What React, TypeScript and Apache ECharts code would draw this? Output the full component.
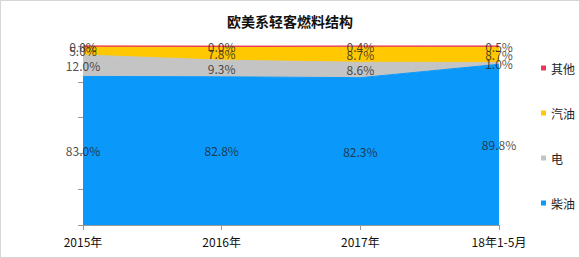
import React, { useEffect, useRef } from "react";
import * as echarts from "echarts";

const categories = ["2015年", "2016年", "2017年", "18年1-5月"];
const diesel = [83.0, 82.8, 82.3, 89.8];
const electric = [12.0, 9.3, 8.6, 1.0];
const gasoline = [5.0, 7.8, 8.7, 8.7];
const other = [0.0, 0.0, 0.4, 0.5];
const seriesNames = ["柴油", "电", "汽油", "其他"];
const seriesValues = [diesel, electric, gasoline, other];
const colors = ["#0a98fa", "#c4c4c4", "#ffc800", "#e8395c"];
const yTicks = { min: 0, max: 100, interval: 20 };

export default function App() {
  const ref = useRef<HTMLDivElement>(null);
  useEffect(() => {
    if (!ref.current) return;
    const chart = echarts.init(ref.current, null, { renderer: "svg" });
    const font = "SimSun, 'Noto Sans CJK SC', sans-serif";

    const areaSeries = seriesNames.map((name, i) => ({
      name,
      type: "line",
      stack: "total",
      data: seriesValues[i],
      symbol: "none",
      lineStyle: { color: colors[i], width: i === 3 ? 1.5 : 1 },
      areaStyle: { color: colors[i], opacity: 1 },
      itemStyle: { color: colors[i] },
      z: 2,
    }));

    const labelSeries = seriesNames.map((name, i) => {
      const data = categories.map((_, c) => {
        let base = 0;
        for (let k = 0; k < i; k++) base += seriesValues[k][c];
        const v = seriesValues[i][c];
        return { value: [c, base + v / 2], raw: v };
      });
      return {
        name: name + "_label",
        type: "scatter",
        data,
        symbolSize: 1,
        itemStyle: { color: "rgba(0,0,0,0)" },
        z: 5,
        label: {
          show: true,
          position: "inside",
          color: "#222",
          fontSize: 12,
          fontFamily: font,
          formatter: (p: any) => p.data.raw.toFixed(1) + "%",
        },
      };
    });

    chart.setOption({
      animation: false,
      title: {
        text: "欧美系轻客燃料结构",
        left: "center",
        top: 8,
        textStyle: { fontSize: 14, fontWeight: "bold", color: "#111", fontFamily: font },
      },
      legend: {
        data: ["其他", "汽油", "电", "柴油"],
        orient: "vertical",
        left: 535,
        top: 56,
        itemWidth: 5,
        itemHeight: 5,
        itemGap: 33,
        icon: "rect",
        textStyle: { fontSize: 12, color: "#222", fontFamily: font },
      },
      grid: { left: 82, right: 80, top: 45, bottom: 32 },
      xAxis: {
        type: "category",
        data: categories,
        boundaryGap: false,
        axisLine: { lineStyle: { color: "#999" } },
        axisTick: { show: true, alignWithLabel: true, lineStyle: { color: "#999" } },
        axisLabel: { color: "#111", fontSize: 12, margin: 10, fontFamily: font },
      },
      yAxis: {
        type: "value",
        min: yTicks.min,
        max: yTicks.max,
        interval: yTicks.interval,
        axisLine: { show: true, lineStyle: { color: "#999" } },
        axisTick: { show: true, lineStyle: { color: "#999" } },
        axisLabel: { show: false },
        splitLine: { show: false },
      },
      series: [...areaSeries, ...labelSeries],
    });
    return () => chart.dispose();
  }, []);
  return (
    <div
      style={{
        position: "absolute",
        left: 0,
        top: 0,
        width: 580,
        height: 258,
        boxSizing: "border-box",
        border: "1px solid #d6d6d6",
        background: "#fff",
      }}
    >
      <div ref={ref} style={{ width: 578, height: 256 }} />
    </div>
  );
}
